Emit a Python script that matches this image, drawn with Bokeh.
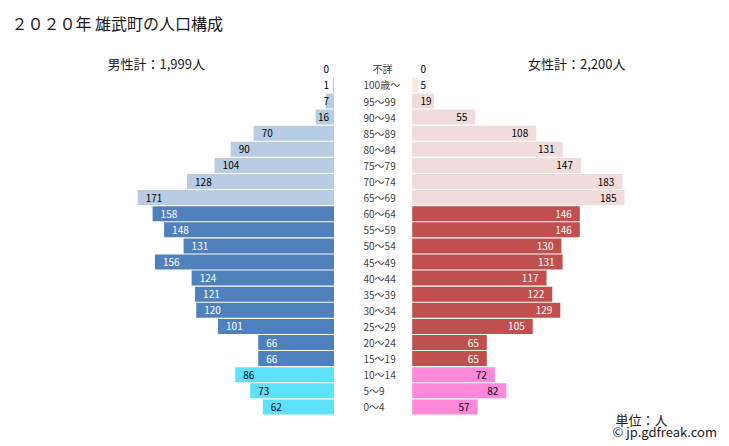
from bokeh.plotting import figure
from bokeh.models import ColumnDataSource, Range1d, Label
from bokeh.core.properties import value
from bokeh.embed import file_html
from bokeh.resources import INLINE

title_text = "２０２０年 雄武町の人口構成"
male_total_label = "男性計：1,999人"
female_total_label = "女性計：2,200人"
unit_label = "単位：人"
credit_label = "© jp.gdfreak.com"

ages = ["不詳", "100歳～", "95～99", "90～94", "85～89", "80～84", "75～79", "70～74",
        "65～69", "60～64", "55～59", "50～54", "45～49", "40～44", "35～39", "30～34",
        "25～29", "20～24", "15～19", "10～14", "5～9", "0～4"]
male = [0, 1, 7, 16, 70, 90, 104, 128, 171, 158, 148, 131, 156, 124, 121, 120, 101, 66, 66, 86, 73, 62]
female = [0, 5, 19, 55, 108, 131, 147, 183, 185, 146, 146, 130, 131, 117, 122, 129, 105, 65, 65, 72, 82, 57]
# age group of each row: u=unknown, c=100+, o=old, w=working, y=young
groups = ["u", "c", "o", "o", "o", "o", "o", "o", "o", "w", "w", "w", "w", "w", "w", "w",
          "w", "w", "w", "y", "y", "y"]

FONT = "Noto Sans CJK JP"
W, H = 729, 446
OFF = 0              # page offset of the figure
PX = 1.148           # pixels per person
MALE0 = 333.5        # male origin (px)
FEM0 = 411.7         # female origin (px)
GAP = (FEM0 - MALE0) / PX
X0 = -(MALE0 - OFF) / PX
ROW = 16.1
Y_TOP = -(68.3 - OFF) / ROW

male_col = {"u": "#B8CCE4", "c": "#B8CCE4", "o": "#B8CCE4", "w": "#4F81BD", "y": "#5DE2FC"}
fem_col = {"u": "#F2DCDB", "c": "#FDE9D9", "o": "#F2DCDB", "w": "#C0504D", "y": "#FF88D8"}
txt_col = {"u": "#000000", "c": "#000000", "o": "#000000", "w": "#FFFFFF", "y": "#000000"}

n = len(ages)
ys = list(range(n))

m_lx, m_align, f_lx, f_align, lcol = [], [], [], [], []
for v in male:
    if v < 20:
        m_lx.append(-5.0 / PX); m_align.append("right")
    else:
        m_lx.append(-v + 8.0 / PX); m_align.append("left")
for v in female:
    if v < 30:
        f_lx.append(GAP + 8.3 / PX); f_align.append("left")
    else:
        f_lx.append(GAP + v - 8.0 / PX); f_align.append("right")
for g in groups:
    lcol.append(txt_col[g])

src = ColumnDataSource(dict(
    y=ys, age=ages, male=male, female=female,
    mleft=[-v for v in male], mright=[0] * n,
    fleft=[GAP] * n, fright=[GAP + v for v in female],
    mcol=[male_col[g] for g in groups], fcol=[fem_col[g] for g in groups],
    mlx=m_lx, malign=m_align, flx=f_lx, falign=f_align, lcol=lcol,
    mtxt=[str(v) for v in male], ftxt=[str(v) for v in female],
))

p = figure(width=W, height=H, output_backend="svg", toolbar_location=None,
           x_range=Range1d(X0, X0 + W / PX),
           y_range=Range1d(Y_TOP + H / ROW, Y_TOP),
           x_axis_location=None, y_axis_location=None, min_border=0)
p.outline_line_color = None
p.grid.visible = False
p.background_fill_color = "white"

p.hbar(y="y", left="mleft", right="mright", height=0.93, fill_color="mcol",
       line_color=None, source=src)
p.hbar(y="y", left="fleft", right="fright", height=0.93, fill_color="fcol",
       line_color=None, source=src)

p.text(x="mlx", y="y", text="mtxt", text_align="malign", text_baseline="middle",
       text_font=value(FONT), text_font_size="10px", text_color="lcol", source=src)
p.text(x="flx", y="y", text="ftxt", text_align="falign", text_baseline="middle",
       text_font=value(FONT), text_font_size="10px", text_color="lcol", source=src)

age_x = (363 - MALE0) / PX
age_src = ColumnDataSource(dict(x=[age_x] * (n - 1), y=ys[1:], t=ages[1:]))
p.text(x="x", y="y", text="t", text_align="left", text_baseline="middle",
       text_font=value(FONT), text_font_size="10px", text_color="#404040", source=age_src)
p.text(x=[(382 - MALE0) / PX], y=[0], text=[ages[0]], text_align="center",
       text_baseline="middle", text_font=value(FONT), text_font_size="10px",
       text_color="#404040")

def lab(text, x, y, size, align="left", color="#1a1a1a"):
    p.add_layout(Label(x=x - OFF, y=H - (y - OFF), x_units="screen", y_units="screen",
                       text=text, text_align=align, text_baseline="middle",
                       text_font=FONT, text_font_size=size, text_color=color))

lab(title_text, 11, 22, "16px")
lab(male_total_label, 107, 63, "13px")
lab(female_total_label, 625, 63, "13px", align="right")
lab(unit_label, 615, 419, "13px")
lab(credit_label, 612, 431, "13px")

open("out.html", "w").write(file_html(p, INLINE))
